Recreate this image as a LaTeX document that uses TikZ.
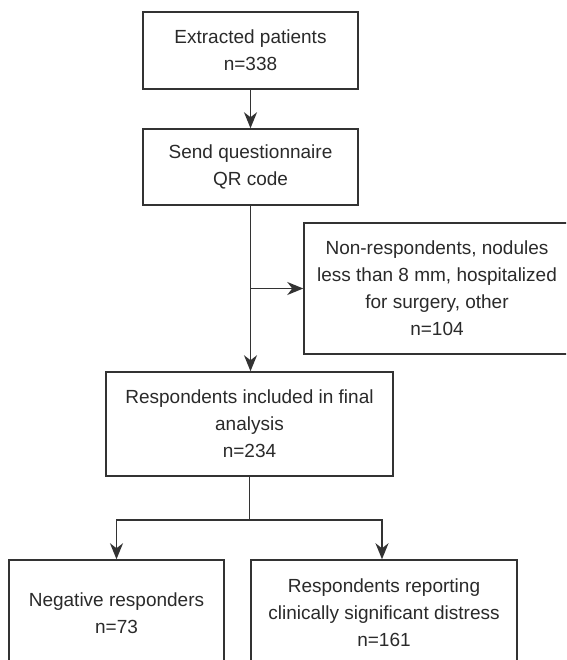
\documentclass[tikz,border=0pt]{standalone}
\usepackage{fontspec}
\setmainfont{Liberation Sans}
\usetikzlibrary{arrows.meta}
\definecolor{ln}{HTML}{333333}
\definecolor{tx}{HTML}{2A2A2A}
\begin{document}
\begin{tikzpicture}[x=1pt,y=-1pt,
  box/.style={draw=ln, line width=1.5pt, rectangle, inner sep=0pt, align=center,
    text=tx, font=\fontsize{19pt}{27pt}\selectfont},
  conn/.style={draw=ln, line width=1.5pt},
  arr/.style={conn, -{Stealth[length=16pt,width=13pt,inset=5pt]}}]
\useasboundingbox (0,0) rectangle (566,660);
\clip (0,0) rectangle (566,660);
\fill[white] (0,0) rectangle (566,660);
\node[box, minimum width=215pt, minimum height=77pt] (b1) at (250.5,50.5) {Extracted patients\\n=338};
\node[box, minimum width=215pt, minimum height=76pt] (b2) at (250.5,167) {Send questionnaire\\QR code};
\node[box, minimum width=266pt, minimum height=131pt] (b3) at (437,288.5) {Non-respondents, nodules\\less than 8 mm, hospitalized\\for surgery, other\\n=104};
\node[box, minimum width=287pt, minimum height=104pt] (b4) at (249.5,424) {Respondents included in final\\analysis\\n=234};
\node[box, minimum width=215pt, minimum height=106pt] (b5) at (116.5,613) {Negative responders\\n=73};
\node[box, minimum width=266pt, minimum height=106pt] (b6) at (384,613) {Respondents reporting\\clinically significant distress\\n=161};
\coordinate (br) at (b2.south |- b3.west);
\coordinate (sp) at (249.5,520);
\draw[arr] (b1.south) -- (b2.north);
\draw[arr] (b2.south) -- (b2.south |- b4.north);
\draw[arr] (br) -- (b3.west);
\draw[conn] (b4.south) -- (sp);
\draw[arr] (sp) -| (b5.north);
\draw[arr] (sp) -| ([xshift=-2pt]b6.north);
\end{tikzpicture}
\end{document}
